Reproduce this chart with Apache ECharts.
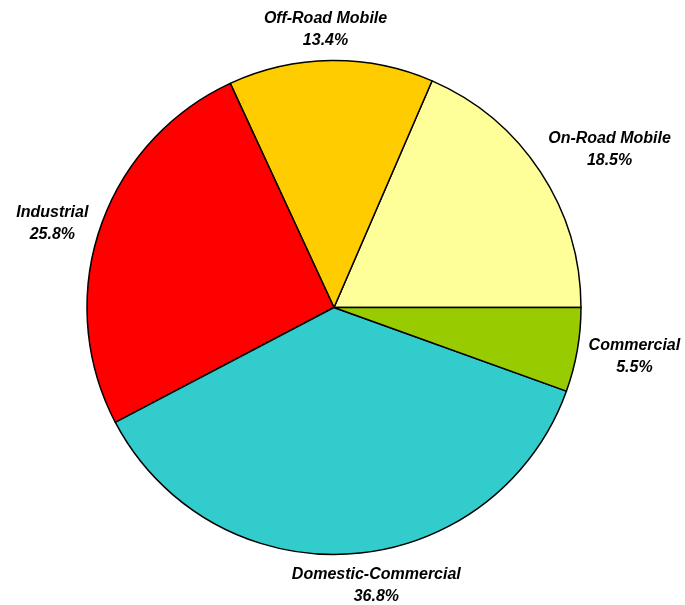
<!DOCTYPE html>
<html>
<head>
<meta charset="utf-8">
<script src="https://cdn.jsdelivr.net/npm/echarts@6/dist/echarts.min.js"></script>
<style>
  html, body { margin: 0; padding: 0; background: #fff; }
  #chart { width: 685px; height: 605px; }
</style>
</head>
<body>
<div id="chart"></div>
<script>
// Emission shares by source sector (percent), counter-clockwise from 3 o'clock
const categories = ['On-Road Mobile', 'Off-Road Mobile', 'Industrial', 'Domestic-Commercial', 'Commercial'];
const shares = [18.5, 13.4, 25.8, 36.8, 5.5];
const colors = ['#FFFF99', '#FFCC00', '#FF0000', '#33CCCC', '#99CC00'];

const CX = 334, CY = 307.5, R = 247, GAP = 5;
// Small hand nudges for the label boxes, in pixels [dx, dy]
const labelNudge = [[12, 15], [-5, -3], [-4, 10], [23, -1], [4, -3]];

// Mid angle (degrees, counter-clockwise from east) for each slice
const total = shares.reduce((a, b) => a + b, 0);
const midAngles = [];
let acc = 0;
shares.forEach(v => {
  midAngles.push((acc + v / 2) / total * 360);
  acc += v;
});

const chart = echarts.init(document.getElementById('chart'), null, { renderer: 'canvas' });

chart.setOption({
  animation: false,
  backgroundColor: '#ffffff',
  series: [{
    type: 'pie',
    center: [CX, CY],
    radius: R,
    startAngle: 0,
    clockwise: false,
    avoidLabelOverlap: false,
    emphasis: { disabled: true },
    itemStyle: { borderColor: '#000000', borderWidth: 1.5 },
    label: {
      show: true,
      position: 'outside',
      color: '#000000',
      fontFamily: '"Liberation Sans", Arial, sans-serif',
      fontSize: 16,
      fontWeight: 'bold',
      fontStyle: 'italic',
      lineHeight: 22,
      align: 'center',
      formatter: p => p.name + '\n' + p.value.toFixed(1) + '%'
    },
    labelLine: { show: false },
    // Each label box sits just outside the rim along its slice's mid angle
    labelLayout: function (params) {
      const i = params.dataIndex;
      const a = midAngles[i] * Math.PI / 180;
      const ux = Math.cos(a), uy = -Math.sin(a);
      const w = params.labelRect.width, h = params.labelRect.height;
      const half = Math.abs(ux) * w / 2 + Math.abs(uy) * h / 2;
      const d = R + GAP + half;
      return {
        x: CX + ux * d + labelNudge[i][0],
        y: CY + uy * d + labelNudge[i][1],
        align: 'center',
        verticalAlign: 'middle'
      };
    },
    data: categories.map((name, i) => ({
      name: name,
      value: shares[i],
      itemStyle: { color: colors[i] }
    }))
  }]
});
</script>
</body>
</html>
